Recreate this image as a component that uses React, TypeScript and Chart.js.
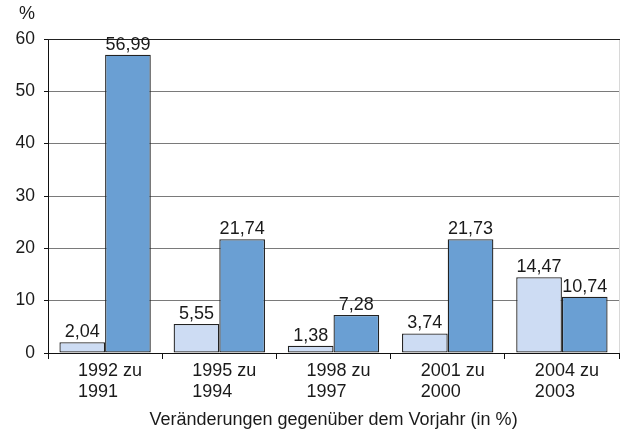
import React, { useEffect, useRef } from 'react';
import { Chart, registerables } from 'chart.js';

Chart.register(...registerables);

const categories: string[][] = [
  ['1992 zu', '1991'],
  ['1995 zu', '1994'],
  ['1998 zu', '1997'],
  ['2001 zu', '2000'],
  ['2004 zu', '2003'],
];
const seriesLight: number[] = [2.04, 5.55, 1.38, 3.74, 14.47];
const seriesDark: number[] = [56.99, 21.74, 7.28, 21.73, 10.74];
const yMin = 0;
const yMax = 60;
const yStep = 10;
const unitLabel = '%';
const xTitle = 'Veränderungen gegenüber dem Vorjahr (in %)';

const FONT = '"Liberation Sans", Arial, Helvetica, sans-serif';
const FS = 18;

const fmt = (v: number) => v.toFixed(2).replace('.', ',');

const decorPlugin = {
  id: 'decor',
  afterDatasetsDraw(chart: any) {
    const { ctx, chartArea } = chart;
    ctx.save();
    // right border
    ctx.strokeStyle = '#d8d8d8';
    ctx.lineWidth = 1;
    ctx.beginPath();
    ctx.moveTo(chartArea.right + 0.5, chartArea.top);
    ctx.lineTo(chartArea.right + 0.5, chartArea.bottom);
    ctx.stroke();
    // top border
    ctx.strokeStyle = '#222';
    ctx.beginPath();
    ctx.moveTo(chartArea.left, chartArea.top + 0.5);
    ctx.lineTo(chartArea.right + 1, chartArea.top + 0.5);
    ctx.stroke();

    // value labels
    ctx.font = `${FS}px ${FONT}`;
    ctx.fillStyle = '#1a1a1a';
    ctx.textAlign = 'center';
    ctx.textBaseline = 'alphabetic';
    chart.data.datasets.forEach((ds: any, di: number) => {
      const meta = chart.getDatasetMeta(di);
      meta.data.forEach((el: any, i: number) => {
        ctx.fillText(fmt(ds.data[i]), el.x, el.y - 5);
      });
    });

    // unit label
    const yScale = chart.scales.y;
    ctx.textAlign = 'right';
    ctx.textBaseline = 'middle';
    ctx.fillText(unitLabel, yScale.right - 13, chartArea.top - 25);

    // x category labels (left aligned block)
    const xScale = chart.scales.x;
    ctx.textAlign = 'left';
    ctx.textBaseline = 'middle';
    categories.forEach((lines, i) => {
      const c = xScale.getPixelForValue(i);
      const w = Math.max(...lines.map((l) => ctx.measureText(l).width));
      const left = c - w / 2 + 5;
      lines.forEach((l, k) => {
        ctx.fillText(l, left, chartArea.bottom + 18 + k * 21);
      });
    });
    ctx.restore();
  },
};

export default function App() {
  const ref = useRef<HTMLCanvasElement | null>(null);
  useEffect(() => {
    document.body.style.margin = '0';
    const canvas = ref.current!;
    const chart = new Chart(canvas, {
      type: 'bar',
      data: {
        labels: categories.map((c) => c.join(' ')),
        datasets: [
          {
            data: seriesLight,
            backgroundColor: '#cddcf3',
            borderColor: '#222',
            borderWidth: 1.3,
            borderSkipped: false,
            categoryPercentage: 0.8,
            barPercentage: 1,
          },
          {
            data: seriesDark,
            backgroundColor: '#6a9fd3',
            borderColor: '#222',
            borderWidth: 1.3,
            borderSkipped: false,
            categoryPercentage: 0.8,
            barPercentage: 1,
          },
        ],
      },
      options: {
        animation: false,
        responsive: false,
        maintainAspectRatio: false,
        layout: { padding: { top: 39, left: 0, right: 2, bottom: 0 } },
        plugins: {
          legend: { display: false },
          tooltip: { enabled: false },
        },
        scales: {
          x: {
            grid: {
              drawOnChartArea: false,
              drawTicks: true,
              tickLength: 6,
              color: '#111',
              offset: true,
            },
            border: { color: '#111', width: 1 },
            ticks: { display: false },
            title: {
              display: true,
              text: xTitle,
              color: '#1a1a1a',
              font: { family: FONT, size: FS },
              padding: { top: 0, bottom: 7 },
            },
            afterFit: (scale: any) => {
              scale.height = 85;
            },
          },
          y: {
            min: yMin,
            max: yMax,
            ticks: {
              stepSize: yStep,
              color: '#1a1a1a',
              font: { family: FONT, size: 17.5 },
              padding: 9,
            },
            grid: {
              color: '#7a7a7a',
              tickColor: '#111',
              tickLength: 4,
            },
            border: { color: '#111', width: 1 },
            afterFit: (scale: any) => {
              scale.width = 48;
            },
          },
        },
      },
      plugins: [decorPlugin],
    });
    return () => chart.destroy();
  }, []);
  return (
    <div style={{ position: 'absolute', left: 0, top: 0, width: 621, height: 438 }}>
      <canvas ref={ref} width={621} height={438} style={{ width: 621, height: 438 }} />
    </div>
  );
}
